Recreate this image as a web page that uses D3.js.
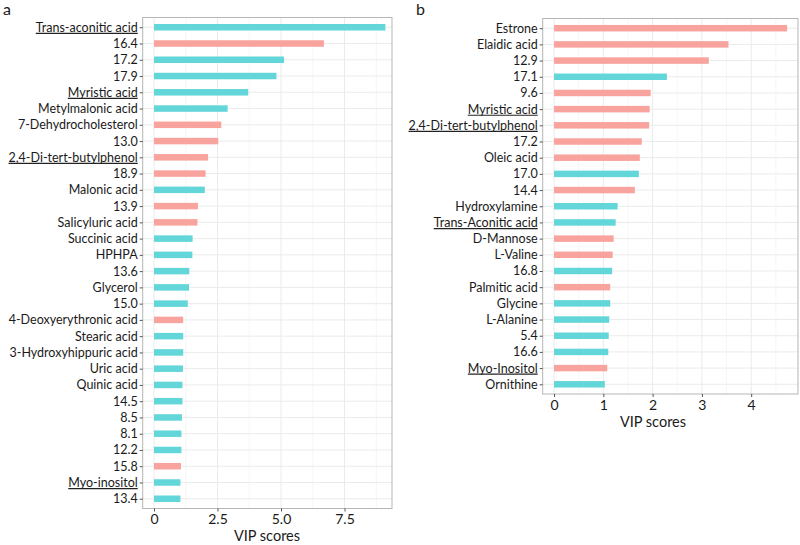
<!DOCTYPE html>
<html><head><meta charset="utf-8">
<script src="https://cdn.jsdelivr.net/npm/d3@7"></script>
<style>body{margin:0;background:#fff} text{font-family:Lato,"Open Sans",sans-serif}</style>
</head><body><svg id="c" width="800" height="545"></svg>
<script>
// ---------- DATA ----------
const namesA = ["Trans-aconitic acid","16.4","17.2","17.9","Myristic acid","Metylmalonic acid","7-Dehydrocholesterol","13.0","2,4-Di-tert-butylphenol","18.9","Malonic acid","13.9","Salicyluric acid","Succinic acid","HPHPA","13.6","Glycerol","15.0","4-Deoxyerythronic acid","Stearic acid","3-Hydroxyhippuric acid","Uric acid","Quinic acid","14.5","8.5","8.1","12.2","15.8","Myo-inositol","13.4"];
const valuesA = [9.11,6.69,5.12,4.82,3.71,2.90,2.65,2.53,2.13,2.03,2.00,1.73,1.71,1.52,1.51,1.39,1.38,1.33,1.15,1.15,1.15,1.14,1.12,1.12,1.10,1.08,1.08,1.06,1.04,1.04];
const groupsA = ["T","P","T","T","T","T","P","P","P","P","T","P","P","T","T","T","T","T","P","T","T","T","T","T","T","T","T","P","T","T"];
const underlinedA = ["Trans-aconitic acid","Myristic acid","2,4-Di-tert-butylphenol","Myo-inositol"];
const ticksA = [0,2.5,5,7.5];
const tickLabelsA = ["0","2.5","5.0","7.5"];
const minorA = [1.25,3.75,6.25,8.75];

const namesB = ["Estrone","Elaidic acid","12.9","17.1","9.6","Myristic acid","2,4-Di-tert-butylphenol","17.2","Oleic acid","17.0","14.4","Hydroxylamine","Trans-Aconitic acid","D-Mannose","L-Valine","16.8","Palmitic acid","Glycine","L-Alanine","5.4","16.6","Myo-Inositol","Ornithine"];
const valuesB = [4.73,3.54,3.14,2.29,1.96,1.94,1.93,1.78,1.74,1.72,1.64,1.29,1.25,1.21,1.19,1.18,1.14,1.14,1.12,1.11,1.10,1.08,1.03];
const groupsB = ["P","P","P","T","P","P","P","P","P","T","P","T","T","P","P","T","P","T","T","T","T","P","T"];
const underlinedB = ["Myristic acid","2,4-Di-tert-butylphenol","Trans-Aconitic acid","Myo-Inositol"];
const ticksB = [0,1,2,3,4];
const tickLabelsB = ["0","1","2","3","4"];
const minorB = [0.5,1.5,2.5,3.5,4.5];

const axisTitle = "VIP scores";

// ---------- DRAW ----------
const svg = d3.select("#c");
const color = d3.scaleOrdinal().domain(["P","T"]).range(["#F8A39D","#63D6D9"]);

function panel(cfg){
  const g = svg.append("g");
  const x = d3.scaleLinear().domain(cfg.xDomain).range([cfg.left, cfg.right]);
  const y = d3.scalePoint().domain(cfg.names).range([cfg.top, cfg.bottom]).padding(0.6);
  const bh = y.step()*0.4;
  g.selectAll(".mn").data(cfg.minor.filter(v=>v<cfg.xDomain[1])).join("line")
    .attr("x1",d=>x(d)).attr("x2",d=>x(d)).attr("y1",cfg.top).attr("y2",cfg.bottom)
    .attr("stroke","#f4f4f4").attr("stroke-width",0.8);
  g.selectAll(".mj").data(cfg.ticks).join("line")
    .attr("x1",d=>x(d)).attr("x2",d=>x(d)).attr("y1",cfg.top).attr("y2",cfg.bottom)
    .attr("stroke","#ebebeb").attr("stroke-width",1);
  g.selectAll(".hz").data(cfg.names).join("line")
    .attr("x1",cfg.left).attr("x2",cfg.right).attr("y1",d=>y(d)).attr("y2",d=>y(d))
    .attr("stroke","#ebebeb").attr("stroke-width",1);
  g.selectAll(".bar").data(cfg.names).join("rect")
    .attr("x",x(0)).attr("y",d=>y(d)-bh/2)
    .attr("width",(d,i)=>x(cfg.values[i])-x(0)).attr("height",bh)
    .attr("fill",(d,i)=>color(cfg.groups[i]));
  g.append("rect").attr("x",cfg.left).attr("y",cfg.top)
    .attr("width",cfg.right-cfg.left).attr("height",cfg.bottom-cfg.top)
    .attr("fill","none").attr("stroke","#b5b5b5").attr("stroke-width",1);
  const ya = g.append("g").attr("transform",`translate(${cfg.left},0)`)
    .call(d3.axisLeft(y).tickSize(3).tickPadding(2));
  ya.select(".domain").remove();
  ya.selectAll(".tick line").attr("stroke","#555");
  ya.selectAll(".tick text").attr("fill","#1a1a1a").style("font-size","12.5px")
    .each(function(d){
      if(cfg.underlined.includes(d)){
        const bb = this.getBBox();
        d3.select(this.parentNode).append("line").attr("x1",bb.x).attr("x2",bb.x+bb.width)
          .attr("y1",5.6).attr("y2",5.6).attr("stroke","#222").attr("stroke-width",1.2);
      }
    });
  const xa = g.append("g").attr("transform",`translate(0,${cfg.bottom})`)
    .call(d3.axisBottom(x).tickValues(cfg.ticks).tickFormat((d,i)=>cfg.tickLabels[i]).tickSize(3).tickPadding(3));
  xa.select(".domain").remove();
  xa.selectAll(".tick line").attr("stroke","#555");
  xa.selectAll(".tick text").attr("fill","#1a1a1a").style("font-size","14px");
  g.append("text").attr("x",cfg.titleX).attr("y",cfg.bottom+32.5)
    .attr("text-anchor","middle").attr("fill","#1a1a1a").style("font-size","14.5px").text(axisTitle);
  g.append("text").attr("x",cfg.tagX).attr("y",15).attr("fill","#1a1a1a")
    .style("font-size","16px").text(cfg.tag);
}

panel({names:namesA, values:valuesA, groups:groupsA, underlined:underlinedA,
  ticks:ticksA, tickLabels:tickLabelsA, minor:minorA,
  xDomain:[-0.445,9.37], left:142.7, right:392, top:17.5, bottom:508.5, titleX:267, tagX:3, tag:"a"});
panel({names:namesB, values:valuesB, groups:groupsB, underlined:underlinedB,
  ticks:ticksB, tickLabels:tickLabelsB, minor:minorB,
  xDomain:[-0.23,4.95], left:542.7, right:798, top:18.5, bottom:394, titleX:653, tagX:416, tag:"b"});
</script></body></html>
